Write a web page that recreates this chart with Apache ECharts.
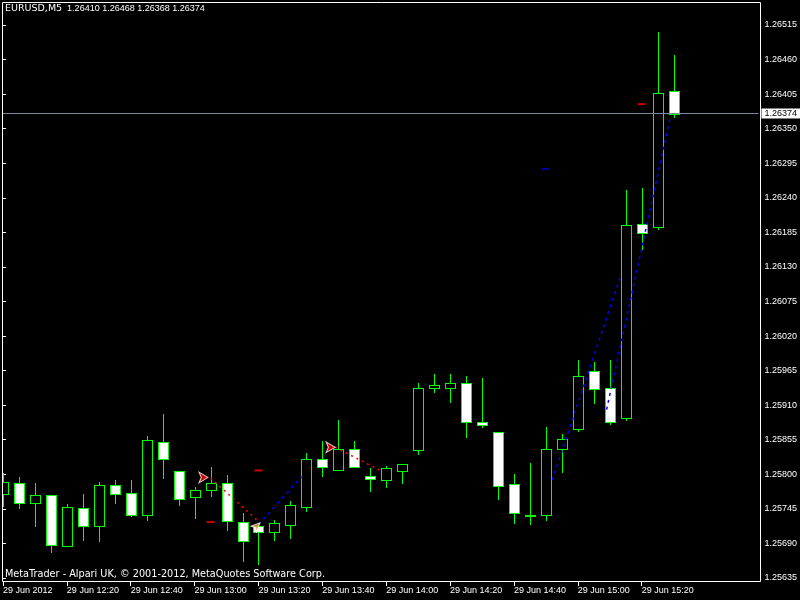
<!DOCTYPE html>
<html><head><meta charset="utf-8">
<script src="https://cdn.jsdelivr.net/npm/echarts@6/dist/echarts.min.js"></script>
<style>html,body{margin:0;padding:0;background:#000}#c{width:800px;height:600px}</style>
</head><body><div id="c"></div>
<script>
const symbolName = 'EURUSD,M5';
const opens  = [1.25768,1.25786,1.25755,1.25767,1.25686,1.25746,1.25717,1.25783,1.25771,1.25736,
                1.25851,1.25806,1.25764,1.25775,1.25786,1.25724,1.25717,1.25708,1.25720,1.25748,
                1.25825,1.25807,1.25841,1.25797,1.25791,1.25806,1.25838,1.25938,1.25938,1.25946,
                1.25884,1.25867,1.25784,1.25736,1.25735,1.25841,1.25872,1.25965,1.25938,1.25889,
                1.26198,1.26194,1.26410];
const closes = [1.25787,1.25755,1.25767,1.25688,1.25748,1.25717,1.25783,1.25768,1.25736,1.25854,
                1.25825,1.25761,1.25775,1.25786,1.25725,1.25694,1.25708,1.25723,1.25751,1.25824,
                1.25811,1.25841,1.25812,1.25793,1.25810,1.25817,1.25938,1.25942,1.25946,1.25884,
                1.25879,1.25781,1.25738,1.25733,1.25841,1.25856,1.25956,1.25935,1.25883,1.26196,
                1.26184,1.26407,1.26374];
const lows   = [1.25750,1.25747,1.25717,1.25677,1.25686,1.25696,1.25694,1.25755,1.25733,1.25727,
                1.25794,1.25751,1.25731,1.25765,1.25711,1.25662,1.25658,1.25696,1.25698,1.25742,
                1.25797,1.25807,1.25812,1.25774,1.25780,1.25786,1.25833,1.25931,1.25915,1.25860,
                1.25876,1.25760,1.25723,1.25721,1.25728,1.25803,1.25869,1.25914,1.25880,1.25886,
                1.26158,1.26190,1.26368];
const highs  = [1.25802,1.25796,1.25786,1.25767,1.25753,1.25769,1.25788,1.25791,1.25791,1.25861,
                1.25896,1.25806,1.25780,1.25812,1.25799,1.25738,1.25722,1.25727,1.25758,1.25834,
                1.25853,1.25886,1.25853,1.25810,1.25813,1.25817,1.25945,1.25960,1.25960,1.25956,
                1.25953,1.25867,1.25800,1.25818,1.25875,1.25864,1.25982,1.25978,1.25982,1.26252,
                1.26255,1.26504,1.26468];
const xTickIdx = [0,4,8,12,16,20,24,28,32,36,40];
const xTickLabels = ['29 Jun 2012','29 Jun 12:20','29 Jun 12:40','29 Jun 13:00','29 Jun 13:20',
                     '29 Jun 13:40','29 Jun 14:00','29 Jun 14:20','29 Jun 14:40','29 Jun 15:00','29 Jun 15:20'];
const yTicks = [1.25635,1.25690,1.25745,1.25800,1.25855,1.25910,1.25965,1.26020,1.26075,
                1.26130,1.26185,1.26240,1.26295,1.26350,1.26405,1.26460,1.26515];
const bidPrice = 1.26374;
const redTradeLines = [[[13,1.25794],[16,1.25725]], [[20.8,1.25843],[23.7,1.25805]]];
const blueTradeLines = [[[16,1.25720],[18.7,1.25796]], [[34.4,1.25791],[38.7,1.26117]], [[37.8,1.25903],[41.8,1.26370]]];
const redDashes = [[16,1.25806],[13,1.25724],[40,1.26389]];
const blueDashes = [[34,1.26286]];
const sellArrows = [[12.84,1.25795],[20.8,1.25843]];
const closeMarks = [[16.1,1.25723]];
const footerText = 'MetaTrader - Alpari UK, \u00a9 2001-2012, MetaQuotes Software Corp.';

const last = opens.length - 1;
const headerNums = [opens[last], highs[last], lows[last], closes[last]].map(v => v.toFixed(5)).join(' ');
const candleData = opens.map((o, i) => [i, o, closes[i], lows[i], highs[i]]);

const GREEN = '#00ff00';
function renderCandle(params, api) {
  const i = api.value(0), o = api.value(1), c = api.value(2), l = api.value(3), h = api.value(4);
  const pO = api.coord([i, o]), pC = api.coord([i, c]), pL = api.coord([i, l]), pH = api.coord([i, h]);
  const cx = Math.round(pO[0]);
  const half = Math.round(api.size([1, 0])[0] * 0.3125);
  const top = Math.round(Math.min(pO[1], pC[1]));
  const bot = Math.round(Math.max(pO[1], pC[1]));
  const yH = Math.round(pH[1]), yL = Math.round(pL[1]);
  const bear = c < o;
  const children = [
    {type: 'rect', shape: {x: cx, y: yH, width: 1, height: yL - yH + 1}, style: {fill: GREEN}},
    {type: 'rect', shape: {x: cx - half, y: top, width: half * 2 + 1, height: bot - top + 1}, style: {fill: GREEN}}
  ];
  if (bot - top >= 2) {
    children.push({type: 'rect', shape: {x: cx - half + 1, y: top + 1, width: half * 2 - 1, height: bot - top - 1},
      style: {fill: bear ? '#ffffff' : '#000000'}});
  }
  return {type: 'group', children};
}

const lineSeries = [];
redTradeLines.forEach(d => lineSeries.push({type: 'line', data: d, showSymbol: false, silent: true,
  lineStyle: {color: '#ff0000', width: 1.5, type: [2, 4]}, z: 3}));
blueTradeLines.forEach(d => lineSeries.push({type: 'line', data: d, showSymbol: false, silent: true,
  lineStyle: {color: '#0000ff', width: 1.5, type: [3, 4]}, z: 3}));

const chart = echarts.init(document.getElementById('c'), null, {renderer: 'canvas'});
chart.setOption({
  backgroundColor: '#000000',
  animation: false,
  title: {
    left: 5, top: 4, padding: 0,
    text: '{a|' + symbolName + '}{b|  ' + headerNums + '}',
    textStyle: {fontWeight: 'normal', rich: {
      a: {fontFamily: 'DejaVu Sans', fontSize: 9.5, fontWeight: 'normal', color: '#ffffff'},
      b: {fontFamily: 'Liberation Sans', fontSize: 9, fontWeight: 'normal', color: '#ffffff'}
    }}
  },
  grid: {left: 2, right: 40, top: 2, bottom: 18, show: false},
  xAxis: {
    type: 'value', min: -0.0625, max: 47.3125,
    splitLine: {show: false}, axisLine: {show: false},
    axisTick: {show: true, customValues: xTickIdx, length: 4, lineStyle: {color: '#ffffff'}},
    axisLabel: {customValues: xTickIdx, formatter: v => xTickLabels[xTickIdx.indexOf(Math.round(v))],
      color: '#ffffff', fontSize: 9, fontFamily: 'Liberation Sans', align: 'left', margin: 4}
  },
  yAxis: {
    type: 'value', position: 'right', min: 1.256286, max: 1.265516,
    splitLine: {show: false}, axisLine: {show: false},
    axisTick: {show: true, customValues: yTicks, length: 3, lineStyle: {color: '#ffffff'}},
    axisLabel: {customValues: yTicks, formatter: v => v.toFixed(5),
      color: '#ffffff', fontSize: 9, fontFamily: 'Liberation Sans', margin: 6}
  },
  graphic: [
    {type: 'rect', shape: {x: 2.5, y: 2.5, width: 758, height: 579}, style: {fill: 'none', stroke: '#ffffff', lineWidth: 1}, z: 100, silent: true},
    {type: 'text', x: 5, y: 569, style: {text: footerText, fill: '#ffffff', font: '9.7px "DejaVu Sans"', textVerticalAlign: 'top'}, z: 100, silent: true}
  ],
  series: [
    {type: 'custom', renderItem: renderCandle, data: candleData, clip: true, encode: {x: 0, y: [1, 2, 3, 4]}, z: 2, silent: true},
    ...lineSeries,
    {type: 'scatter', data: redDashes, symbol: 'rect', symbolSize: [8, 2], itemStyle: {color: '#ff0000'}, silent: true, z: 4,
      markLine: {silent: true, precision: 5, symbol: ['none', 'none'], data: [{yAxis: bidPrice}],
        lineStyle: {color: '#778899', type: 'solid', width: 1},
        label: {show: true, position: 'end', distance: 3, formatter: bidPrice.toFixed(5), backgroundColor: '#ffffff',
          color: '#000000', fontSize: 9, fontFamily: 'Liberation Sans', padding: [1, 3, 0, 3]}}},
    {type: 'scatter', data: blueDashes, symbol: 'rect', symbolSize: [8, 2], itemStyle: {color: '#0000c8'}, silent: true, z: 4},
    {type: 'scatter', data: sellArrows, symbol: 'arrow', symbolRotate: -90, symbolSize: [8, 9],
      itemStyle: {color: '#ff0000', borderColor: '#ffffff', borderWidth: 1}, silent: true, z: 5},
    {type: 'scatter', data: closeMarks, symbol: 'arrow', symbolRotate: -45, symbolSize: [6, 9],
      itemStyle: {color: '#e0a040', borderColor: '#ffffff', borderWidth: 1}, silent: true, z: 5}
  ]
});
</script></body></html>
